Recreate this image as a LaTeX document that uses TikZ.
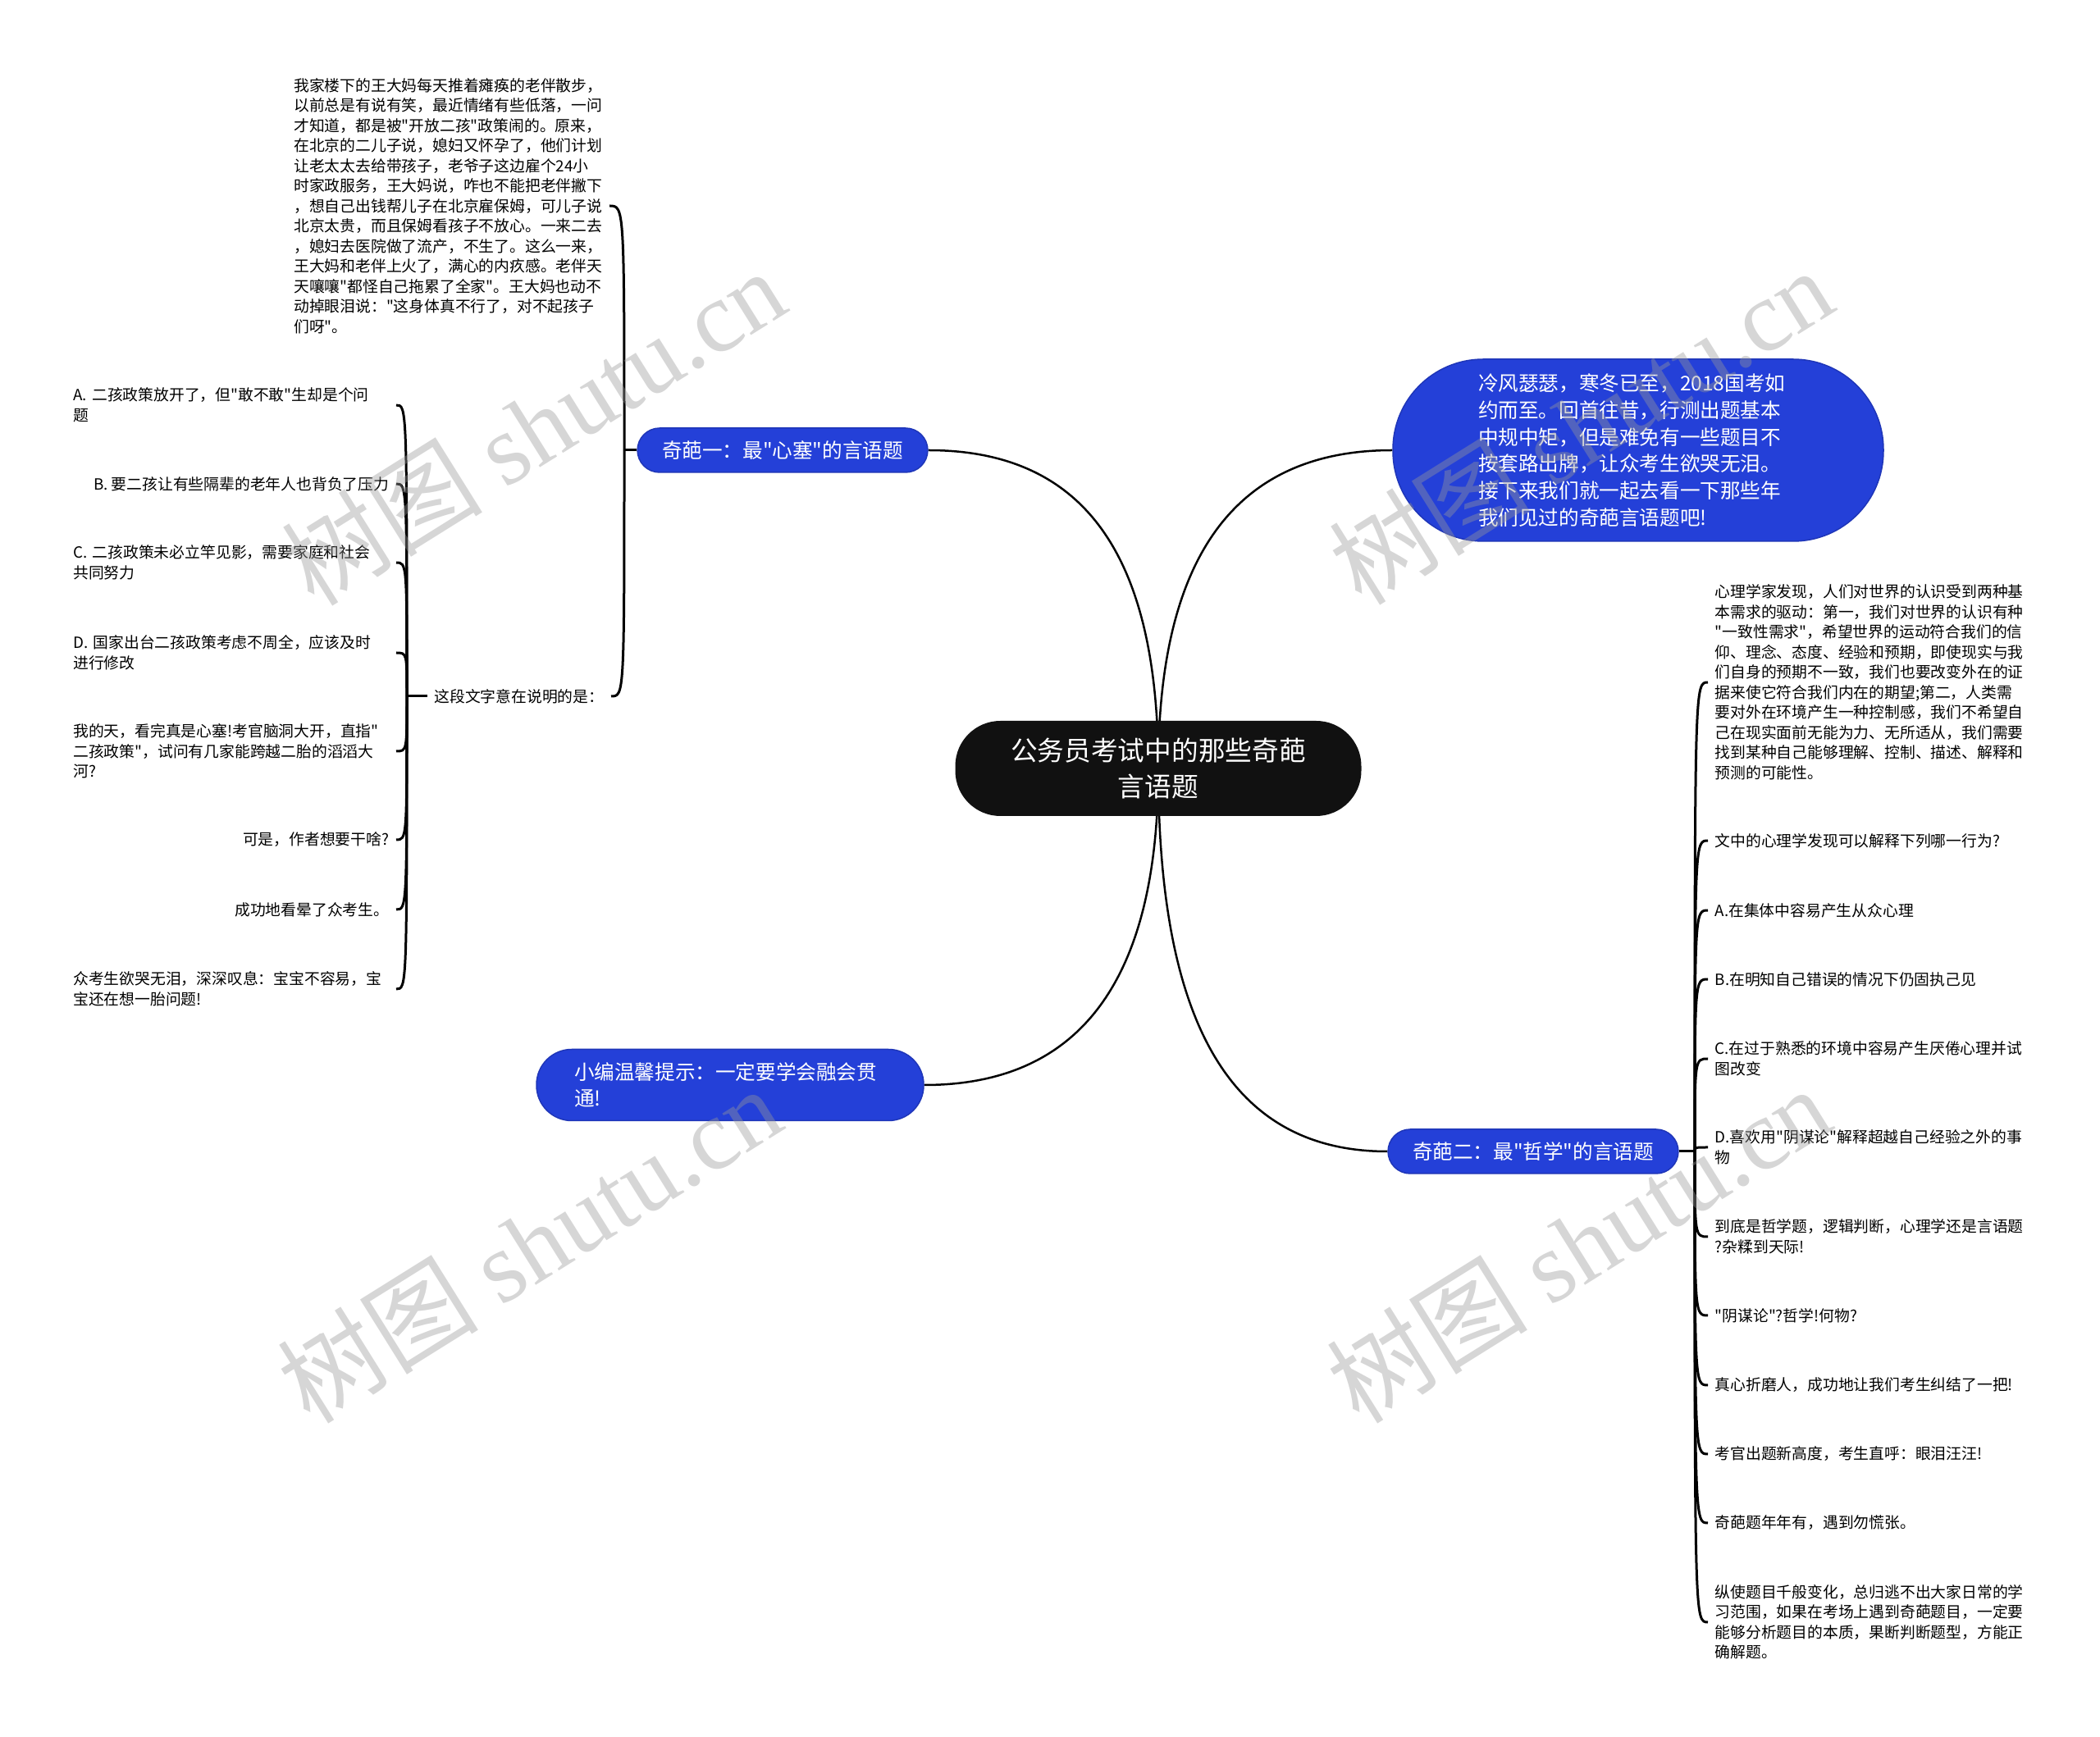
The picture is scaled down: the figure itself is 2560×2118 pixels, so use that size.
\documentclass[tikz,border=0pt]{standalone}
\usepackage{fontspec}
\setmainfont{Noto Sans CJK SC}[Ligatures=TeXOff]
\newfontfamily\wmserif{Liberation Serif}
\usetikzlibrary{backgrounds}
\definecolor{topicblue}{RGB}{36,64,216}
\definecolor{hubblack}{RGB}{17,17,17}
\newcommand\leaffont{\fontsize{5.35}{6.97}\selectfont}
\newcommand\topicfont{\fontsize{7.0}{9.3}\selectfont}
\newcommand\hubfont{\fontsize{9.3}{12.5}\selectfont}

\begin{document}
\begin{tikzpicture}[x=0.1mm,y=-0.1mm,
  hub/.style={fill=hubblack,text=white,font=\hubfont,align=center,rounded corners=5.5mm,minimum width=49.5mm,minimum height=11.6mm,inner sep=0pt},
  topic/.style={fill=topicblue,draw=topicblue!85!black,line width=0.15mm,text=white,font=\topicfont,inner xsep=3mm,inner ysep=0pt,minimum height=5.4mm,rounded corners=2.7mm},
  leaf/.style={font=\leaffont,align=left,inner xsep=0.8mm,inner ysep=0.3mm},
  lwide/.style={leaf,anchor=east,text width=38.5mm},
  branch/.style={line width=0.25mm},
  brace/.style={line width=0.3mm},
  wmark/.style={text=black!40,text opacity=0.4,rotate=32,font=\fontsize{35}{35}\selectfont}]
  \useasboundingbox (0,0) rectangle (2560,2118);

  \node[hub] (hub) at (1412,937) {公务员考试中的那些奇葩\\言语题};
  \node[topic,align=left,text width=39mm,inner xsep=10.4mm,minimum height=22.2mm,rounded corners=11mm] (intro) at (1997,549) {冷风瑟瑟，寒冬已至，2018国考如\\约而至。回首往昔，行测出题基本\\中规中矩，但是难免有一些题目不\\按套路出牌，让众考生欲哭无泪。\\接下来我们就一起去看一下那些年\\我们见过的奇葩言语题吧!};
  \node[topic] (q1) at (954,549) {奇葩一：最"心塞"的言语题};
  \node[topic] (q2) at (1869,1404) {奇葩二：最"哲学"的言语题};
  \node[topic,align=left,text width=38mm,inner xsep=4.6mm,minimum height=8.7mm,rounded corners=4.3mm] (tip) at (890,1323) {小编温馨提示：一定要学会融会贯\\通!};

  \begin{scope}
    \coordinate (j1) at (761,549);
    \node[leaf,anchor=east] (story) at (743,251) {我家楼下的王大妈每天推着瘫痪的老伴散步，\\以前总是有说有笑，最近情绪有些低落，一问\\才知道，都是被"开放二孩"政策闹的。原来，\\在北京的二儿子说，媳妇又怀孕了，他们计划\\让老太太去给带孩子，老爷子这边雇个24小\\时家政服务，王大妈说，咋也不能把老伴撇下\\，想自己出钱帮儿子在北京雇保姆，可儿子说\\北京太贵，而且保姆看孩子不放心。一来二去\\，媳妇去医院做了流产，不生了。这么一来，\\王大妈和老伴上火了，满心的内疚感。老伴天\\天嚷嚷"都怪自己拖累了全家"。王大妈也动不\\动掉眼泪说："这身体真不行了，对不起孩子\\们呀"。};
    \node[leaf,anchor=east] (ask1) at (745,849) {这段文字意在说明的是：};
    \coordinate (j2) at (496,849);
    \node[lwide] (oa) at (483,494) {A. 二孩政策放开了，但"敢不敢"生却是个问\\题};
    \node[leaf,anchor=east] (ob) at (483,590) {B. 要二孩让有些隔辈的老年人也背负了压力};
    \node[lwide] (oc) at (483,686) {C. 二孩政策未必立竿见影，需要家庭和社会\\共同努力};
    \node[lwide] (od) at (483,796) {D. 国家出台二孩政策考虑不周全，应该及时\\进行修改};
    \node[lwide] (wow) at (483,916) {我的天，看完真是心塞!考官脑洞大开，直指"\\二孩政策"，试问有几家能跨越二胎的滔滔大\\河?};
    \node[leaf,anchor=east] (why) at (483,1024) {可是，作者想要干啥?};
    \node[leaf,anchor=east] (dizzy) at (483,1109) {成功地看晕了众考生。};
    \node[lwide] (sigh) at (483,1206) {众考生欲哭无泪，深深叹息：宝宝不容易，宝\\宝还在想一胎问题!};
  \end{scope}

  \begin{scope}
    \coordinate (j3) at (2066,1404);
    \node[leaf,anchor=west] (theory) at (2082,832) {心理学家发现，人们对世界的认识受到两种基\\本需求的驱动：第一，我们对世界的认识有种\\"一致性需求"，希望世界的运动符合我们的信\\仰、理念、态度、经验和预期，即使现实与我\\们自身的预期不一致，我们也要改变外在的证\\据来使它符合我们内在的期望;第二，人类需\\要对外在环境产生一种控制感，我们不希望自\\己在现实面前无能为力、无所适从，我们需要\\找到某种自己能够理解、控制、描述、解释和\\预测的可能性。};
    \node[leaf,anchor=west] (ask2) at (2082,1025) {文中的心理学发现可以解释下列哪一行为?};
    \node[leaf,anchor=west] (ra) at (2082,1110) {A.在集体中容易产生从众心理};
    \node[leaf,anchor=west] (rb) at (2082,1194) {B.在明知自己错误的情况下仍固执己见};
    \node[leaf,anchor=west] (rc) at (2082,1291) {C.在过于熟悉的环境中容易产生厌倦心理并试\\图改变};
    \node[leaf,anchor=west] (rd) at (2082,1399) {D.喜欢用"阴谋论"解释超越自己经验之外的事\\物};
    \node[leaf,anchor=west] (mix) at (2082,1508) {到底是哲学题，逻辑判断，心理学还是言语题\\?杂糅到天际!};
    \node[leaf,anchor=west] (plot) at (2082,1604) {"阴谋论"?哲学!何物?};
    \node[leaf,anchor=west] (tease) at (2082,1689) {真心折磨人，成功地让我们考生纠结了一把!};
    \node[leaf,anchor=west] (tears) at (2082,1773) {考官出题新高度，考生直呼：眼泪汪汪!};
    \node[leaf,anchor=west] (yearly) at (2082,1857) {奇葩题年年有，遇到勿慌张。};
    \node[leaf,anchor=west] (advice) at (2082,1978) {纵使题目千般变化，总归逃不出大家日常的学\\习范围，如果在考场上遇到奇葩题目，一定要\\能够分析题目的本质，果断判断题型，方能正\\确解题。};
  \end{scope}

  \begin{scope}[on background layer]
    \draw[branch] (hub.center) .. controls +(0,-259) and +(-191,0) .. (intro.west);
    \draw[branch] (hub.center) .. controls +(0,-259) and +(191,0) .. (q1.east);
    \draw[branch] (hub.center) .. controls +(0,257) and +(191,0) .. (tip.east);
    \draw[branch] (hub.center) .. controls +(0,311) and +(-191,0) .. (q2.west);
    \draw[brace] (q1.west) -- (j1);
    \foreach \k in {story,ask1}
      \draw[brace] (j1) .. controls (j1 |- \k.east) .. (\k.east);
    \draw[brace] (ask1.west) -- (j2);
    \foreach \k in {oa,ob,oc,od,wow,why,dizzy,sigh}
      \draw[brace] (j2) .. controls (j2 |- \k.east) .. (\k.east);
    \draw[brace] (q2.east) -- (j3);
    \foreach \k in {theory,ask2,ra,rb,rc,rd,mix,plot,tease,tears,yearly,advice}
      \draw[brace] (j3) .. controls (j3 |- \k.west) .. (\k.west);
  \end{scope}

  \node[wmark] (wm1) at (650,520) {树图 {\wmserif shutu.cn}};
  \node[wmark] (wm2) at (1927,519) {树图 {\wmserif shutu.cn}};
  \node[wmark] (wm3) at (645,1517) {树图 {\wmserif shutu.cn}};
  \node[wmark] (wm4) at (1924,1517) {树图 {\wmserif shutu.cn}};
\end{tikzpicture}
\end{document}
